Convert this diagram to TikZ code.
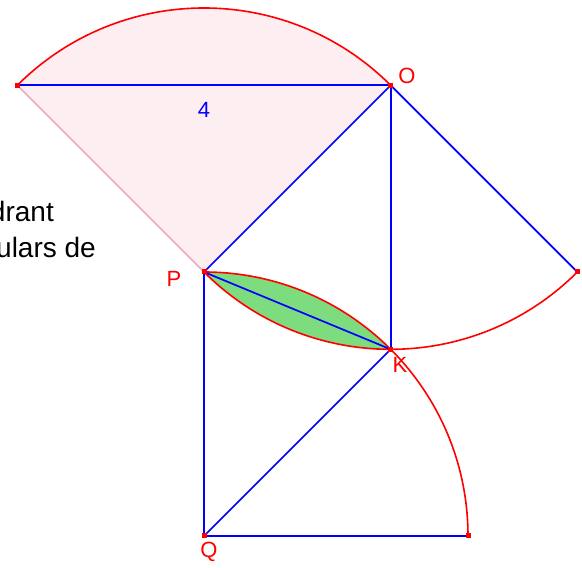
\documentclass[tikz,border=0pt]{standalone}
\usepackage{fontspec}
\setmainfont{Liberation Sans}
\definecolor{gblue}{RGB}{0,0,255}
\definecolor{gred}{RGB}{255,0,0}
\definecolor{pinkfill}{RGB}{253,238,242}
\definecolor{pinkline}{RGB}{240,170,190}
\definecolor{lensgreen}{RGB}{125,220,125}
\begin{document}
\begin{tikzpicture}[x=1pt,y=1pt,
  bl/.style={gblue,line width=1.7pt},
  rd/.style={gred,line width=1.6pt},
  pt/.style={rectangle,fill=gred,minimum size=5pt,inner sep=0pt},
  lab/.style={text=gred,font=\fontsize{22}{26}\selectfont,inner sep=0pt},
  side/.style={font=\fontsize{28}{34}\selectfont,inner sep=0pt,anchor=base east}]
\useasboundingbox (0,0) rectangle (582,568);
\clip (0,0) rectangle (582,568);
\coordinate (P) at (204,296);
\coordinate (O) at (390.68,482.68);
\coordinate (L) at (17.32,482.68);
\coordinate (Q) at (204,32);
\coordinate (K) at (390.68,218.68);
\coordinate (R) at (577.36,296);
\coordinate (B) at (468,32);
% fills
\fill[pinkfill] (P) -- (L) arc[start angle=135,end angle=45,radius=264] -- cycle;
\fill[lensgreen] (P) arc[start angle=90,end angle=45,radius=264] arc[start angle=270,end angle=225,radius=264] -- cycle;
% side text
\node[side] (t1) at (54,346) {drant};
\node[side] (t2) at (96,310) {ulars de};
% lines
\draw[pinkline,line width=1.6pt] (P) -- (L);
\draw[rd] (L) arc[start angle=135,end angle=45,radius=264];
\draw[rd] (B) arc[start angle=0,end angle=90,radius=264];
\draw[rd] (P) arc[start angle=225,end angle=315,radius=264];
\draw[bl] (L) -- (O);
\draw[bl] (O) -- (P);
\draw[bl] (P) -- (Q);
\draw[bl] (Q) -- (K);
\draw[bl] (K) -- (O);
\draw[bl] (Q) -- (B);
\draw[bl] (O) -- (R);
\draw[bl] (P) -- (K);
% points
\node[pt] (pL) at (L) {};
\node[pt] (pO) at (O) {};
\node[pt] (pR) at (R) {};
\node[pt] (pB) at (B) {};
\node[pt] (pQ) at (Q) {};
\node[pt] (pK) at (K) {};
\node[pt] (pP) at (P) {};
% labels
\node[lab] (lO) at (407,492) {O};
\node[lab] (lP) at (174,289) {P};
\node[lab] (lK) at (400,203) {K};
\node[lab] (lQ) at (209,16) {Q};
\node[lab,text=gblue] (l4) at (204,458) {4};
\end{tikzpicture}
\end{document}
